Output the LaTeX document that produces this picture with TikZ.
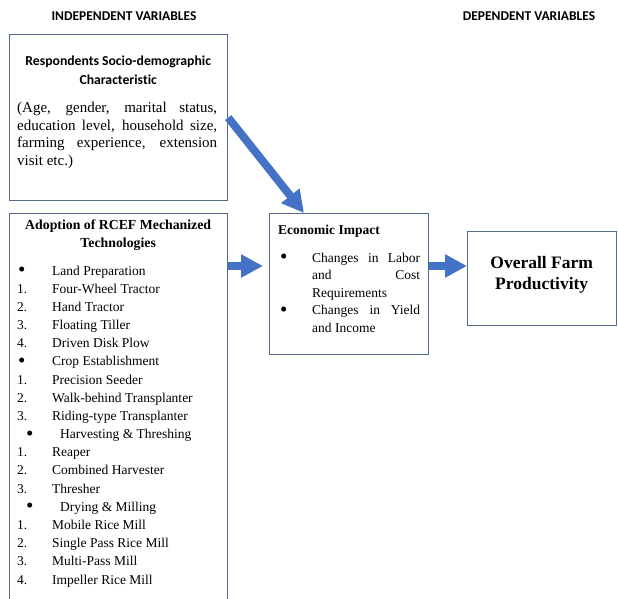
\documentclass[tikz,border=0pt]{standalone}
\usepackage{fontspec}
\setmainfont{Liberation Serif}
\newfontfamily\headfont[Ligatures=NoCommon]{Carlito}
\usetikzlibrary{arrows.meta,positioning}
\definecolor{framecol}{RGB}{84,104,140}
\definecolor{arrowcol}{RGB}{68,114,196}
\tikzset{
    frame-box/.style = {draw=framecol, line width=1.2pt, rectangle, inner sep=0pt, anchor=north west},
    text-block/.style = {inner sep=0pt, anchor=base west},
    head-title/.style = {font=\headfont\bfseries\fontsize{13.5}{16}\selectfont, inner sep=0pt},
    fat-arrow/.style = {draw=arrowcol, line width=8pt, -{Triangle[length=22pt,width=22pt]}},
}
\newcommand{\bigdot}{\raisebox{-1.6pt}{\fontsize{21}{21}\selectfont\textbullet}}
\newcommand{\listrow}[2]{\makebox[35pt][l]{#1}#2\par}
\newcommand{\subrow}[1]{\makebox[43pt][l]{\hspace{9pt}\bigdot}#1\par}
\newcommand{\impactrow}[1]{\hangindent=34pt\hangafter=1\noindent\makebox[34pt][l]{\hspace{2pt}\bigdot}#1\par}

\begin{document}
\begin{tikzpicture}[x=1pt,y=-1pt]
\useasboundingbox (0,0) rectangle (618,599);
\clip (0,0) rectangle (618,599);
% headings
\node[head-title] (indep) at (124,16.5) {INDEPENDENT VARIABLES};
\node[head-title] (dep) at (529,16.5) {DEPENDENT VARIABLES};
% frames
\node[frame-box, minimum width=218pt, minimum height=166pt] (socio) at (9,34) {};
\node[frame-box, minimum width=218pt, minimum height=400pt] (adopt) at (9,213) {};
\node[frame-box, minimum width=159pt, minimum height=141pt] (impact) at (269,213) {};
\node[frame-box, minimum width=149pt, minimum height=94pt] (overall) at (467,231) {};
% socio-demographic text
\node[text-block] (sociotitle) at ([shift={(8,32)}]socio.north west) {\begin{minipage}[t]{202pt}\centering
    \headfont\bfseries\fontsize{13.7}{19}\selectfont
    Respondents Socio-demographic\\ Characteristic
\end{minipage}};
\node[text-block] (sociobody) at ([shift={(8,78.5)}]socio.north west) {\begin{minipage}[t]{200pt}
    \fontsize{15}{17.7}\selectfont
    (Age, gender, marital status,\linebreak education level, household size,\linebreak farming experience, extension\linebreak visit etc.)
\end{minipage}};
% adoption text
\node[text-block] (adopttitle) at ([shift={(8,16)}]adopt.north west) {\begin{minipage}[t]{202pt}\centering
    \bfseries\fontsize{13.8}{18}\selectfont
    Adoption of RCEF Mechanized\\ Technologies
\end{minipage}};
\node[text-block] (adoptlist) at ([shift={(8,62)}]adopt.north west) {\begin{minipage}[t]{205pt}
    \fontsize{13.5}{18.18}\selectfont
    \listrow{\hspace{1pt}\bigdot}{Land Preparation}
    \listrow{1.}{Four-Wheel Tractor}
    \listrow{2.}{Hand Tractor}
    \listrow{3.}{Floating Tiller}
    \listrow{4.}{Driven Disk Plow}
    \listrow{\hspace{1pt}\bigdot}{Crop Establishment}
    \listrow{1.}{Precision Seeder}
    \listrow{2.}{Walk-behind Transplanter}
    \listrow{3.}{Riding-type Transplanter}
    \subrow{Harvesting \& Threshing}
    \listrow{1.}{Reaper}
    \listrow{2.}{Combined Harvester}
    \listrow{3.}{Thresher}
    \subrow{Drying \& Milling}
    \listrow{1.}{Mobile Rice Mill}
    \listrow{2.}{Single Pass Rice Mill}
    \listrow{3.}{Multi-Pass Mill}
    \listrow{4.}{Impeller Rice Mill}
\end{minipage}};
% economic impact text
\node[text-block] (impacttitle) at ([shift={(9,21)}]impact.north west) {\bfseries\fontsize{13.5}{17}\selectfont Economic Impact};
\node[text-block] (impactlist) at ([shift={(9,49)}]impact.north west) {\begin{minipage}[t]{142pt}
    \fontsize{13.5}{17.5}\selectfont
    \impactrow{Changes in Labor\linebreak and Cost\linebreak Requirements}
    \impactrow{Changes in Yield\linebreak and Income}
\end{minipage}};
% overall text
\node[text-block] (overalltitle) at ([shift={(0,37)}]overall.north west) {\begin{minipage}[t]{149pt}\centering
    \bfseries\fontsize{17.5}{21}\selectfont
    Overall Farm\\ Productivity
\end{minipage}};
% arrows
\coordinate (tipin) at ([xshift=35pt]impact.north west);
\coordinate (flow) at ([yshift=-53pt]impact.north);
\draw[fat-arrow] (socio.east) -- (tipin);
\draw[fat-arrow, shorten >=6pt] (adopt.east |- flow) -- (impact.west |- flow);
\draw[fat-arrow] (impact.east |- flow) -- (overall.west |- flow);
\end{tikzpicture}
\end{document}
